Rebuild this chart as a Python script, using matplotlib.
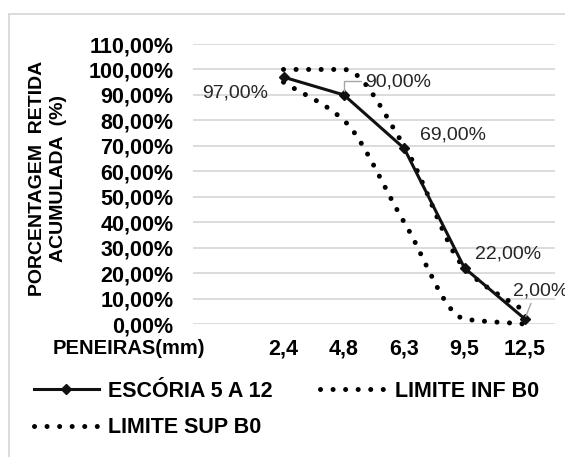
import matplotlib
matplotlib.use("Agg")
import matplotlib.pyplot as plt
import matplotlib.transforms as mtrans
from matplotlib.path import Path
from matplotlib.patches import PathPatch, Rectangle
from matplotlib.lines import Line2D

# -- data ---------------------------------------------------------------------
SIEVES = ["2,4", "4,8", "6,3", "9,5", "12,5"]          # PENEIRAS (mm)
ESCORIA = [97, 90, 69, 22, 2]                          # % retida acumulada
LIM_INF = [95, 80, 40, 2, 0]                           # limite inferior B0
LIM_SUP = [100, 100, 70, 22, 5]                        # limite superior B0
VALUE_LABELS = ["97,00%", "90,00%", "69,00%", "22,00%", "2,00%"]
YTICKS = list(range(0, 111, 10))
# ------------------------------------------------------------------------------

plt.rcParams["font.family"] = ["Liberation Sans", "DejaVu Sans"]

DOT = (0, (0.01, 2.5))


def smooth_path(xs, ys):
    """Smoothed line as cubic bezier pieces, monotone tangents (no overshoot)."""
    n = len(xs)
    d = [(ys[i + 1] - ys[i]) / (xs[i + 1] - xs[i]) for i in range(n - 1)]
    m = [d[0]] + [0.0] * (n - 2) + [d[-1]]
    for i in range(1, n - 1):
        if d[i - 1] * d[i] > 0:
            m[i] = 2 / (1 / d[i - 1] + 1 / d[i])
    verts = [(xs[0], ys[0])]
    codes = [Path.MOVETO]
    for i in range(n - 1):
        h = xs[i + 1] - xs[i]
        verts += [(xs[i] + h / 3, ys[i] + m[i] * h / 3),
                  (xs[i + 1] - h / 3, ys[i + 1] - m[i + 1] * h / 3),
                  (xs[i + 1], ys[i + 1])]
        codes += [Path.CURVE4] * 3
    return Path(verts, codes)


fig = plt.figure(figsize=(5.65, 4.57), dpi=100)
ax = fig.add_axes([193 / 565, 1 - 324 / 457, 362 / 565, 280 / 457])

# chart area border (runs off the right / bottom edge like the screenshot)
fig.patches.append(Rectangle((9 / 565, -0.2), 1.2, 1.2 - 14 / 457, transform=fig.transFigure,
                             fill=False, edgecolor="#d9d9d9", lw=1.3))

x = list(range(1, len(SIEVES) + 1))

for ys in (LIM_INF, LIM_SUP):
    ax.add_patch(PathPatch(smooth_path(x, ys), fill=False, edgecolor="black",
                           lw=3.6, linestyle=DOT, capstyle="round", zorder=3,
                           clip_on=False))

esc, = ax.plot(x, ESCORIA, color="#111111", lw=2.2, marker="D", ms=5,
               zorder=4, label="ESCÓRIA 5 A 12")

# data labels
offsets = [(-48, -16), (54, 13), (49, 13), (44, 14), (16, 28)]
for i, (v, txt, off) in enumerate(zip(ESCORIA, VALUE_LABELS, offsets)):
    kw = {}
    if i == 1:
        kw["arrowprops"] = dict(arrowstyle="-", color="#a6a6a6", lw=1,
                                shrinkA=1, shrinkB=3, relpos=(0, 0.55),
                                connectionstyle="angle,angleA=180,angleB=90,rad=0")
    if i == 4:
        kw["arrowprops"] = dict(arrowstyle="-", color="#a6a6a6", lw=1,
                                shrinkA=1, shrinkB=2, relpos=(0.35, 0))
    ax.annotate(txt, xy=(x[i], v), xytext=off, textcoords="offset pixels",
                ha="center", va="center", fontsize=14, color="#262626",
                annotation_clip=False, zorder=5, **kw)

ax.set_xlim(-0.5, 5.5)
ax.set_ylim(0, 110)
ax.set_yticks(YTICKS)
ax.set_yticklabels([f"{t},00%" for t in YTICKS])
ax.set_xticks(x)
ax.set_xticklabels(SIEVES)
ax.tick_params(length=0, labelsize=15.5)
ax.tick_params(axis="y", pad=14)
ax.tick_params(axis="x", pad=10.5)
for lab in ax.get_xticklabels() + ax.get_yticklabels():
    lab.set_fontweight("bold")
for s in ax.spines.values():
    s.set_visible(False)
ax.yaxis.grid(True, color="#d9d9d9", lw=1.3)
ax.set_axisbelow(True)

# first category caption
trans = mtrans.offset_copy(ax.get_xaxis_transform(), fig=fig, y=-10.5, units="points")
ax.text(-0.3, 0, "PENEIRAS(mm)", transform=trans, ha="right", va="top",
        fontsize=14.5, fontweight="bold")

fig.text(48 / 565, 1 - 178 / 457, "PORCENTAGEM  RETIDA\nACUMULADA  (%)",
         rotation=90, ha="center", va="center", multialignment="center",
         fontsize=14, fontweight="bold", linespacing=1.35)

sup_h = Line2D([], [], color="black", lw=3.6, linestyle=DOT, dash_capstyle="round")
inf_h = Line2D([], [], color="black", lw=3.6, linestyle=DOT, dash_capstyle="round")
fig.legend([esc, sup_h, inf_h], ["ESCÓRIA 5 A 12", "LIMITE SUP B0", "LIMITE INF B0"],
           ncol=2, loc="upper left", bbox_to_anchor=(34 / 565, 1 - 381 / 457),
           frameon=False, prop={"weight": "bold", "size": 15.5},
           handlelength=3.0, handletextpad=0.45, columnspacing=2.2,
           labelspacing=0.7, borderpad=0, borderaxespad=0)

fig.savefig("out.png", dpi=100)
